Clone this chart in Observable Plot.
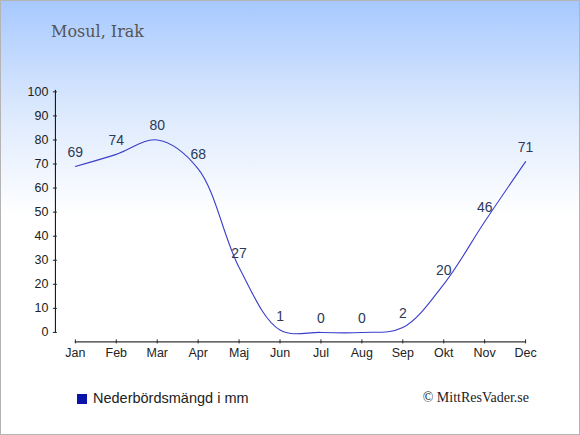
<!DOCTYPE html>
<html>
<head>
<meta charset="utf-8">
<script src="https://cdn.jsdelivr.net/npm/d3@7"></script>
<script src="https://cdn.jsdelivr.net/npm/@observablehq/plot@0.6"></script>
<style>
  html, body { margin: 0; padding: 0; background: #fff; }
  #wrap {
    position: relative; width: 580px; height: 435px; box-sizing: border-box;
    border: 1px solid #b4b4b4;
    background: linear-gradient(to bottom, #a7c9ff 0px, #dce9fd 110px, #ffffff 215px, #ffffff 435px);
    overflow: hidden;
  }
  #chart { position: absolute; left: -1px; top: -1px; }
  .title { position: absolute; left: 50px; top: 23px; font: 16px "DejaVu Serif", serif; color: #555; line-height: 1; white-space: nowrap; }
  .legend { position: absolute; left: 76px; top: 390px; font: 14.5px "Liberation Sans", Arial, sans-serif; color: #222; line-height: 1; white-space: nowrap; }
  .legend .sw { display: inline-block; width: 10px; height: 10px; background: #0a14aa; margin-right: 6px; vertical-align: -1px; }
  .credit { position: absolute; right: 50px; top: 390px; font: 14px "Liberation Serif", serif; color: #222; line-height: 1; white-space: nowrap; }
</style>
</head>
<body>
<div id="wrap">
  <div id="chart"></div>
  <div class="title">Mosul, Irak</div>
  <div class="legend"><span class="sw"></span>Nederbördsmängd i mm</div>
  <div class="credit">© MittResVader.se</div>
</div>
<script>
const months = ["Jan","Feb","Mar","Apr","Maj","Jun","Jul","Aug","Sep","Okt","Nov","Dec"];
const precipitation = [69, 74, 80, 68, 27, 1, 0, 0, 2, 20, 46, 71];
const yTicks = [0, 10, 20, 30, 40, 50, 60, 70, 80, 90, 100];

const data = months.map((m, i) => ({month: m, value: precipitation[i]}));

const chart = Plot.plot({
  width: 580,
  height: 435,
  marginLeft: 55,
  marginRight: 55,
  marginTop: 90,
  marginBottom: 93,
  style: {background: "transparent", fontFamily: "'Liberation Sans', Arial, sans-serif", fontSize: "12.5px", color: "#222"},
  x: {type: "point", domain: months, range: [75, 526], padding: 0},
  y: {domain: [0, 100], range: [332.5, 91.5]},
  marks: [
    Plot.frame({anchor: "left", insetBottom: 9.5, stroke: "#000"}),
    Plot.frame({anchor: "bottom", insetLeft: 20, stroke: "#000"}),
    Plot.axisY({ticks: yTicks, tickSize: 4, dx: 2, tickPadding: 5, tickFormat: d => String(d), label: null, fill: "#222"}),
    Plot.axisX({tickSize: 4, dy: -2, tickPadding: 4, label: null, fill: "#222"}),
    Plot.line(data, {x: "month", y: "value", curve: "catmull-rom", stroke: "#3a3ecb", strokeWidth: 1.1}),
    Plot.text(data, {x: "month", y: "value", text: d => String(d.value), dy: -14, lineAnchor: "middle", fontSize: 14, fill: "#2c3a5a"})
  ]
});
document.getElementById("chart").appendChild(chart);
</script>
</body>
</html>
